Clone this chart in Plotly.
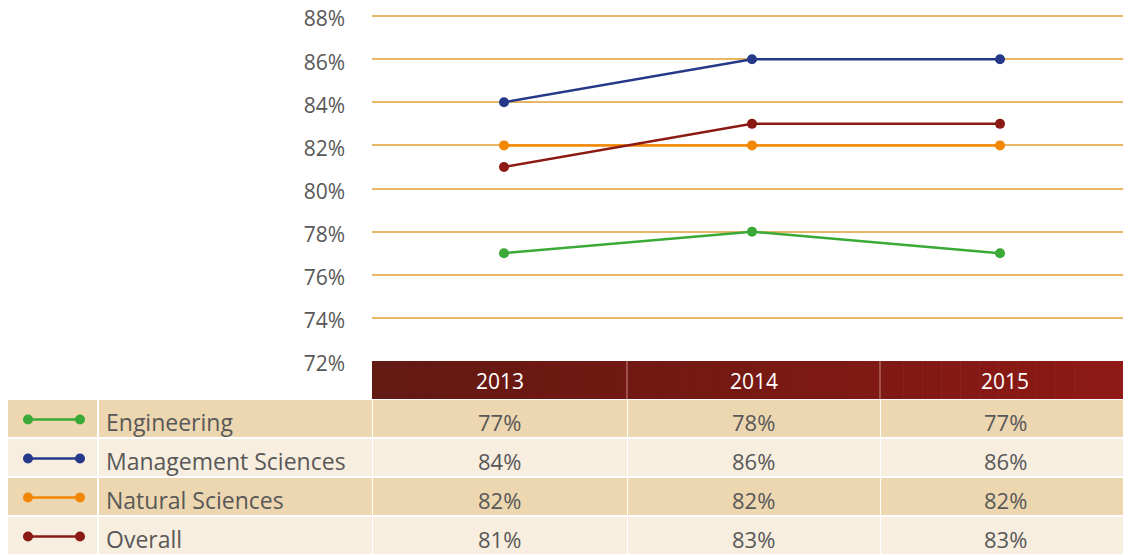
import plotly.graph_objects as go

# ---------- data ----------
years = ["2013", "2014", "2015"]
programmes = ["Engineering", "Management Sciences", "Natural Sciences", "Overall"]
engineering = [77, 78, 77]
management = [84, 86, 86]
natural = [82, 82, 82]
overall = [81, 83, 83]
colours = ["#3aa935", "#26388a", "#f28705", "#8b1a14"]
y_ticks = [72, 74, 76, 78, 80, 82, 84, 86, 88]

series = [engineering, management, natural, overall]

# the page body has an 8px margin, so the figure is drawn 8px smaller
# and every reference pixel position is shifted by OFF
OFF = 8
W, H = 1131 - OFF, 555 - OFF
FONT = "Open Sans"
GREY = "#585858"


def px_x(x):
    return max(x - OFF, 0) / W


def px_y(y):
    return 1 - max(y - OFF, 0) / H


fig = go.Figure()

# lines plotted at column centres (0, 1, 2)
for name, vals, col in zip(programmes, series, colours):
    fig.add_trace(go.Scatter(
        x=[0, 1, 2], y=vals, name=name, mode="lines+markers",
        line=dict(color=col, width=2.5),
        marker=dict(color=col, size=10),
        showlegend=False, hoverinfo="skip",
    ))

shapes = []
annotations = []

# ---------- table geometry (reference pixels) ----------
col_edges = [372, 627, 880, 1131]
head_top, head_bot = 361, 399
row_h = 39
label_left, label_right = 6, 372
glyph_right = 97

# header gradient strips
n_strip = 40
c0 = (0x63, 0x1a, 0x12)
c1 = (0x8e, 0x19, 0x16)
for i in range(n_strip):
    t = i / (n_strip - 1)
    c = tuple(int(c0[k] + (c1[k] - c0[k]) * t) for k in range(3))
    x0 = col_edges[0] + (col_edges[-1] - col_edges[0]) * i / n_strip
    x1 = min(col_edges[0] + (col_edges[-1] - col_edges[0]) * (i + 1) / n_strip + 0.6, 1131)
    shapes.append(dict(type="rect", xref="paper", yref="paper",
                       x0=px_x(x0), x1=px_x(x1), y0=px_y(head_bot), y1=px_y(head_top),
                       fillcolor="rgb(%d,%d,%d)" % c, line=dict(width=0), layer="above"))
for e in col_edges[1:-1]:
    shapes.append(dict(type="line", xref="paper", yref="paper",
                       x0=px_x(e), x1=px_x(e), y0=px_y(head_bot), y1=px_y(head_top),
                       line=dict(color="#c98a88", width=1), layer="above"))
for j, yr in enumerate(years):
    annotations.append(dict(xref="paper", yref="paper",
                            x=px_x((col_edges[j] + col_edges[j + 1]) / 2),
                            y=px_y((head_top + head_bot) / 2 + 1),
                            xanchor="center", yanchor="middle",
                            text=yr, showarrow=False,
                            font=dict(family=FONT, size=21, color="white")))

# body rows
for i, (name, vals, col) in enumerate(zip(programmes, series, colours)):
    top = head_bot + 1 + i * row_h
    bot = top + row_h - 2
    fill = "#edd7b0" if i % 2 == 0 else "#f8eee0"
    cells = [(label_left, glyph_right), (glyph_right + 2, label_right)] + \
            [(col_edges[j] + 1, col_edges[j + 1]) for j in range(3)]
    for (a, b) in cells:
        shapes.append(dict(type="rect", xref="paper", yref="paper",
                           x0=px_x(a), x1=px_x(b), y0=px_y(bot), y1=px_y(top),
                           fillcolor=fill, line=dict(width=0), layer="above"))
    yc = (top + bot) / 2 + 1
    # legend glyph
    shapes.append(dict(type="line", xref="paper", yref="paper",
                       x0=px_x(28), x1=px_x(80), y0=px_y(yc), y1=px_y(yc),
                       line=dict(color=col, width=2.5), layer="above"))
    for cx in (28, 80):
        shapes.append(dict(type="circle", xref="paper", yref="paper",
                           x0=px_x(cx - 5), x1=px_x(cx + 5),
                           y0=px_y(yc + 5), y1=px_y(yc - 5),
                           fillcolor=col, line=dict(width=0), layer="above"))
    annotations.append(dict(xref="paper", yref="paper", x=px_x(104), y=px_y(yc + 2),
                            xanchor="left", yanchor="middle", text=name, showarrow=False,
                            font=dict(family=FONT, size=23, color=GREY)))
    for j, v in enumerate(vals):
        annotations.append(dict(xref="paper", yref="paper",
                                x=px_x((col_edges[j] + col_edges[j + 1]) / 2), y=px_y(yc + 2),
                                xanchor="center", yanchor="middle",
                                text=f"{v}%", showarrow=False,
                                font=dict(family=FONT, size=22, color=GREY)))

# x range so that column centres line up with the table columns
unit = 248
x_lo = (372 - 504) / unit
x_hi = (1131 - 504) / unit
# y range: 88% at pixel 15, 72% at pixel 361 (tiny headroom keeps the top grid line)
y_dom = [px_y(361), px_y(15)]

fig.update_layout(
    template="none",
    width=W, height=H,
    margin=dict(l=0, r=0, t=0, b=0, pad=0, autoexpand=False),
    paper_bgcolor="white", plot_bgcolor="white",
    xaxis=dict(domain=[px_x(372), 1], range=[x_lo, x_hi], visible=False,
               automargin=False),
    yaxis=dict(domain=[y_dom[0], y_dom[1] + 0.004], range=[72, 88.15], automargin=False,
               tickvals=y_ticks, ticktext=[f"{t}%" for t in y_ticks],
               showgrid=True, gridcolor="#e8b766", gridwidth=1.5, zeroline=False,
               showline=False, ticks="", ticklabelstandoff=26,
               ticklabeloverflow="allow", ticklabelshift=3,
               tickfont=dict(family=FONT, size=21, color=GREY)),
    shapes=shapes,
    annotations=annotations,
)

fig.write_html("out.html")
